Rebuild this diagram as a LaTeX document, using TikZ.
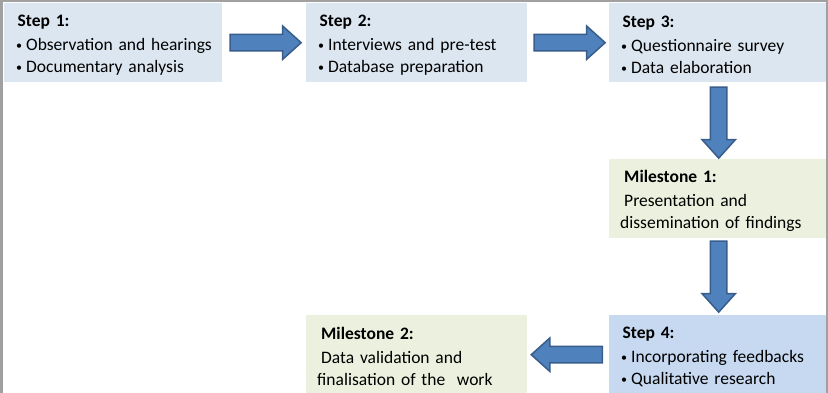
\documentclass[tikz,border=0pt]{standalone}
\usepackage{fontspec}
\setmainfont{Carlito}
\usepackage{xcolor}
\usetikzlibrary{shapes.arrows,calc}

\definecolor{stepblue}{HTML}{DCE6F1}
\definecolor{stepdark}{HTML}{C6D9F1}
\definecolor{milegreen}{HTML}{EBF1DE}
\definecolor{arrowfill}{HTML}{4F81BD}
\definecolor{arrowline}{HTML}{385D8A}
\definecolor{framegray}{HTML}{A0A0A0}

\newcommand{\boxhead}[1]{\rule{0pt}{16pt}\textbf{#1}}
\newcommand{\bitem}[1]{\hspace*{-1.5pt}\makebox[10pt][l]{\raisebox{1pt}{\fontsize{12}{12}\selectfont\textbullet}}\mbox{#1}}

\begin{document}
\begin{tikzpicture}[x=1pt,y=-1pt,
  box/.style={anchor=north west, minimum height=79pt, align=left,
    inner ysep=0pt, font=\fontsize{17.5}{22}\selectfont},
  stepbox/.style={box, fill=stepblue, inner xsep=13.5pt, text width=#1},
  milebox/.style={box, fill=milegreen, inner xsep=11pt, text width=#1},
  flowarrow/.style={single arrow, draw=arrowline, fill=arrowfill, line width=1.5pt,
    minimum height=71pt, inner xsep=0pt, inner ysep=7.5pt,
    single arrow head extend=8.5pt, single arrow tip angle=84, anchor=tail}]
  \useasboundingbox (0,0) rectangle (828,393);
  \clip (0,0) rectangle (828,393);

  % top row
  \node[stepbox=191pt] (s1) at (4,3)
    {\boxhead{Step 1:}\\[2pt] \bitem{Observation and hearings}\\ \bitem{Documentary analysis}};
  \node[stepbox=194pt] (s2) at (306,3)
    {\boxhead{Step 2:}\\[2pt] \bitem{Interviews and pre-test}\\ \bitem{Database preparation}};
  \node[stepbox=192pt] (s3) at (609,3)
    {\boxhead{Step 3:}\\[2pt] \bitem{Questionnaire survey}\\ \bitem{Data elaboration}};

  % right column and bottom row
  \node[milebox=197pt] (m1) at (609,159)
    {\boxhead{\hspace*{4pt}Milestone 1:}\\[2pt] \hspace*{4pt}Presentation and\\ dissemination of findings};
  \node[stepbox=192pt, fill=stepdark] (s4) at (609,315)
    {\boxhead{Step 4:}\\[2pt] \bitem{Incorporating feedbacks}\\ \bitem{Qualitative research}};
  \node[milebox=199pt] (m2) at (306,315)
    {\boxhead{\hspace*{4pt}Milestone 2:}\\[2pt] \hspace*{4pt}Data validation and\\ finalisation of the\ \ work};

  % block arrows between the boxes
  \node[flowarrow] (a12) at ($(s1.east)+(7,0)$) {};
  \node[flowarrow] (a23) at ($(s2.east)+(6,0)$) {};
  \node[flowarrow, rotate=-90] (a3m) at ($(s3.south)+(0,4)$) {};
  \node[flowarrow, rotate=-90] (am4) at ($(m1.south)+(0,2)$) {};
  \node[flowarrow, rotate=180] (a4m) at ($(s4.west)+(-6,0)$) {};

  \draw[framegray, line width=2.5pt] (1.25,400) -- (1.25,1.25) -- (826.75,1.25) -- (826.75,400);
\end{tikzpicture}
\end{document}
